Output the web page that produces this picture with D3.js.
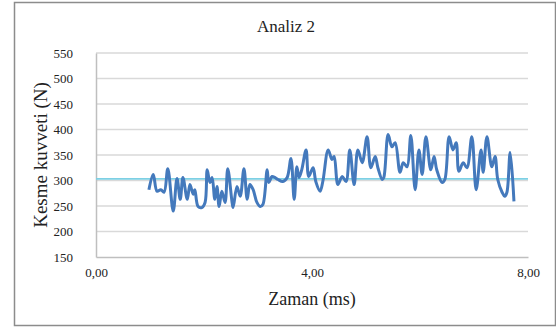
<!DOCTYPE html>
<html>
<head>
<meta charset="utf-8">
<script src="https://cdn.jsdelivr.net/npm/d3@7"></script>
<style>
  body { margin: 0; background: #fff; }
  svg text { font-family: "Liberation Serif", "DejaVu Serif", serif !important; fill: #222; }
</style>
</head>
<body>
<div id="chart"></div>
<script>
// time (ms) and shear force (N)
var zaman = [0.98,1.06,1.13,1.20,1.26,1.33,1.43,1.50,1.56,1.61,1.69,1.74,1.80,1.83,1.89,1.96,2.02,2.06,2.11,2.15,
  2.20,2.24,2.28,2.33,2.39,2.44,2.52,2.54,2.61,2.67,2.74,2.80,2.85,2.91,2.98,3.04,3.09,3.17,3.20,3.26,
  3.31,3.37,3.46,3.54,3.61,3.67,3.72,3.76,3.81,3.89,3.94,4.02,4.07,4.15,4.20,4.30,4.37,4.41,4.48,4.56,
  4.63,4.70,4.78,4.85,4.93,5.02,5.09,5.17,5.22,5.30,5.33,5.41,5.48,5.54,5.63,5.69,5.76,5.83,5.91,5.98,
  6.04,6.11,6.20,6.26,6.31,6.41,6.46,6.54,6.61,6.67,6.72,6.80,6.87,6.96,7.04,7.13,7.17,7.24,7.33,7.39,
  7.44,7.52,7.57,7.61,7.67,7.74];
var kuvvet = [282,312,279,282,277,323,240,304,263,306,263,292,273,282,249,247,257,321,296,306,
  263,288,249,279,257,323,257,247,288,269,323,263,292,282,257,249,253,321,296,308,
  306,302,298,306,343,263,327,306,321,360,308,325,298,279,298,360,341,347,292,308,
  298,360,292,360,335,386,325,347,325,302,306,390,366,374,316,335,327,388,282,360,
  312,386,321,347,321,296,302,386,360,374,318,335,325,386,282,360,316,386,327,347,
  302,277,269,277,355,259];
var ortalama = [303];   // mean line
var yTicks = [150,200,250,300,350,400,450,500,550];
var xTicks = [0,4,8];

var W = 556, H = 328;
var margin = {top: 53, right: 28, bottom: 71, left: 96},
  width = W - margin.left - margin.right,
  height = H - margin.top - margin.bottom;

var svg = d3.select("#chart").append("svg")
  .attr("width", W)
  .attr("height", H);

// outer frame
svg.append("rect")
  .attr("x", 14.5).attr("y", 2.5)
  .attr("width", W - 15).attr("height", 323)
  .attr("fill", "#fff")
  .attr("stroke", "#8c8c8c")
  .attr("stroke-width", 1.5);

var g = svg.append("g")
  .attr("transform", "translate(" + margin.left + "," + margin.top + ")");

var x = d3.scaleLinear().domain([0, 8]).range([0, width]);
var y = d3.scaleLinear().domain([150, 550]).range([height, 0]);

// gridlines
g.selectAll(".grid")
  .data(yTicks.slice(1))
  .enter().append("line")
  .attr("class", "grid")
  .attr("x1", 0).attr("x2", width)
  .attr("y1", function(d) { return y(d); })
  .attr("y2", function(d) { return y(d); })
  .attr("stroke", "#d9d9d9")
  .attr("stroke-width", 1.5);

// axes
var yAxis = d3.axisLeft(y).tickValues(yTicks).tickSize(0).tickPadding(23)
  .tickFormat(d3.format("d"));
var xAxis = d3.axisBottom(x).tickValues(xTicks).tickSize(0).tickPadding(11)
  .tickFormat(function(d) { return d3.format(".2f")(d).replace(".", ","); });

var ya = g.append("g").call(yAxis).attr("font-family", null).attr("font-size", null);
ya.select(".domain").attr("stroke", "#bfbfbf").attr("stroke-width", 1.5);
ya.selectAll("text").style("font-size", "13px");

var xa = g.append("g").attr("transform", "translate(0," + height + ")").call(xAxis)
  .attr("font-family", null).attr("font-size", null);
xa.select(".domain").attr("stroke", "#bfbfbf").attr("stroke-width", 1.5);
xa.selectAll("text").style("font-size", "13px");

// mean line
g.selectAll(".mean")
  .data(ortalama)
  .enter().append("line")
  .attr("class", "mean")
  .attr("x1", 0).attr("x2", width)
  .attr("y1", function(d) { return y(d); })
  .attr("y2", function(d) { return y(d); })
  .attr("stroke", "#7dd0e4")
  .attr("stroke-width", 1.8);

// data line
var pts = zaman.map(function(t, i) { return [t, kuvvet[i]]; });
var line = d3.line()
  .x(function(d) { return x(d[0]); })
  .y(function(d) { return y(d[1]); })
  .curve(d3.curveCatmullRom.alpha(0.5));

g.append("path")
  .datum(pts)
  .attr("d", line)
  .attr("fill", "none")
  .attr("stroke", "#4479bc")
  .attr("stroke-width", 3)
  .attr("stroke-linejoin", "round");

// titles
svg.append("text")
  .attr("x", 286).attr("y", 32)
  .attr("text-anchor", "middle")
  .style("font-size", "17px")
  .text("Analiz 2");

svg.append("text")
  .attr("x", margin.left + width / 2).attr("y", 305)
  .attr("text-anchor", "middle")
  .style("font-size", "18px")
  .text("Zaman (ms)");

svg.append("text")
  .attr("transform", "translate(47," + (margin.top + height / 2) + ") rotate(-90)")
  .attr("text-anchor", "middle")
  .style("font-size", "19px")
  .text("Kesme kuvveti (N)");
</script>
</body>
</html>
